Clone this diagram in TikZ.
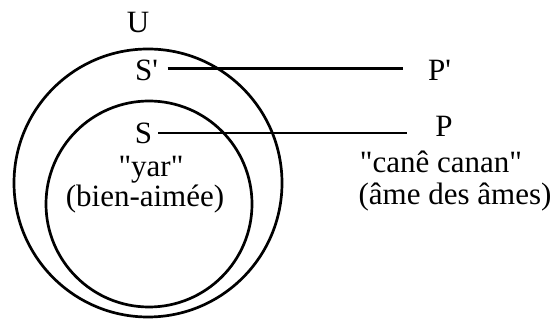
\documentclass[tikz,border=0pt]{standalone}
\usepackage{fontspec}
\setmainfont{Liberation Serif}
\begin{document}
\begin{tikzpicture}[x=1pt,y=-1pt,
  lbl/.style={inner sep=0pt, outer sep=0pt, anchor=base, font=\fontsize{31}{37}\selectfont},
  ring/.style={line width=2.7pt},
  link/.style={line width=2.7pt}]
\useasboundingbox (0,0) rectangle (554,320);
\draw[ring] (148,183) circle[radius=134];
\draw[ring] (149,204) circle[radius=103];
\node[lbl] (U) at (138,33) {U};
\node[lbl] (Sp) at (146.5,81) {S\textquotesingle};
\node[lbl] (S) at (143.5,144) {S};
\node[lbl] (yar) at (151,177) {\textquotedbl yar\textquotedbl};
\node[lbl] (bien) at (145,207) {(bien-aimée)};
\node[lbl] (Pp) at (439.5,81) {P\textquotesingle};
\node[lbl] (P) at (444,137) {P};
\node[lbl] (cane) at (441,173) {\textquotedbl canê canan\textquotedbl};
\node[lbl] (ame) at (455,205) {(âme des âmes)};
\coordinate (sp0) at ([xshift=9.6pt,yshift=2.5pt]Sp.east);
\coordinate (s0) at ([xshift=6pt,yshift=1pt]S.east);
\draw[link] (sp0) -- ([xshift=-25.4pt]Pp.west |- sp0);
\draw[link] (s0) -- ([xshift=-28.4pt]P.west |- s0);
\end{tikzpicture}
\end{document}
